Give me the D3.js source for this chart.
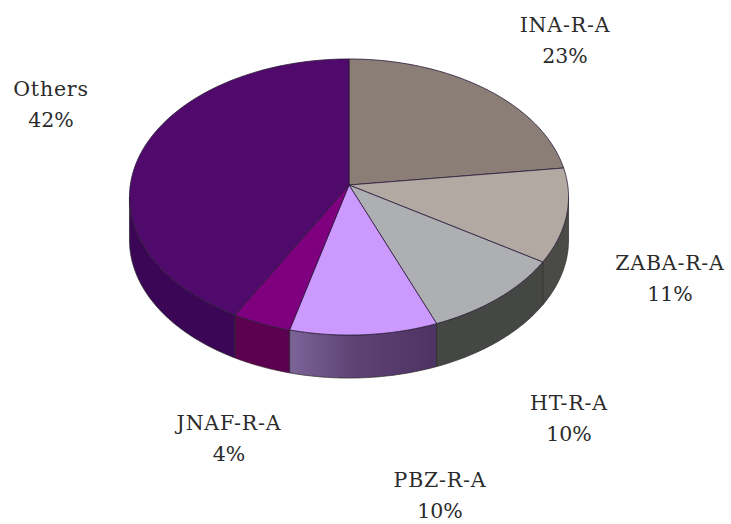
<!DOCTYPE html>
<html><head><meta charset="utf-8">
<script src="https://cdn.jsdelivr.net/npm/d3@7"></script>
<style>html,body{margin:0;padding:0;background:#fff}svg{display:block}text{font-family:"DejaVu Serif",serif;font-size:20.5px;fill:#2b2b2b;text-anchor:middle}.name{letter-spacing:.8px}</style>
</head><body><svg id="c" width="731" height="524"></svg>
<script>
const categories=["INA-R-A","ZABA-R-A","HT-R-A","PBZ-R-A","JNAF-R-A","Others"];
const shares=[23,11,10,10,4,42];
const topColors=["#8a7e77","#b1a9a2","#adafb2","#cc99ff","#7f007f","#4f0a6b"];
const sideColors=["#5a524d","#4a4a46","#454745","url(#pbzSide)","#5c0050","#3b0655"];
const labelX=[565,670,569,440,229,51];
const labelY=[32,270,410,487,430,96];

const svg=d3.select("#c");
const cx=349,cy=185,rx=218.7,ry=137,k=0.087,depth=43;
const project=(a,dy=0)=>{const x=Math.sin(a),y=-Math.cos(a),w=1-k*y;return [cx+rx*x/w,cy+ry*y/w+dy];};
const line=d3.line();
const arcPts=(a0,a1,dy=0)=>d3.range(0,61).map(i=>project(a0+(a1-a0)*i/60,dy));
const pie=d3.pie().sort(null)(shares);

const grad=svg.append("defs").append("linearGradient").attr("id","pbzSide");
grad.append("stop").attr("offset","0%").attr("stop-color","#7c6499");
grad.append("stop").attr("offset","45%").attr("stop-color","#5d4273");
grad.append("stop").attr("offset","100%").attr("stop-color","#4d3363");

const aR=Math.PI-Math.acos(k),aL=Math.PI+Math.acos(k);
const sides=pie.map((d,i)=>({i,a0:Math.max(d.startAngle,aR),a1:Math.min(d.endAngle,aL)})).filter(d=>d.a1>d.a0);
svg.append("g").selectAll("path").data(sides).join("path")
  .attr("d",d=>line([...arcPts(d.a0,d.a1),...arcPts(d.a1,d.a0,depth)])+"Z")
  .attr("fill",d=>sideColors[d.i]).attr("stroke","#2a2a2a").attr("stroke-width",0.7).attr("stroke-linejoin","round");
svg.append("g").selectAll("path").data(pie).join("path")
  .attr("d",d=>line([[cx,cy],...arcPts(d.startAngle,d.endAngle)])+"Z")
  .attr("fill",(d,i)=>topColors[i]).attr("stroke","#2b1a3a").attr("stroke-width",0.8).attr("stroke-linejoin","round");

const lab=svg.append("g").selectAll("text").data(categories).join("text")
  .attr("x",(d,i)=>labelX[i]).attr("y",(d,i)=>labelY[i]);
lab.append("tspan").attr("class","name").text(d=>d);
lab.append("tspan").attr("x",(d,i)=>labelX[i]).attr("dy",31).text((d,i)=>shares[i]+"%");
</script></body></html>
